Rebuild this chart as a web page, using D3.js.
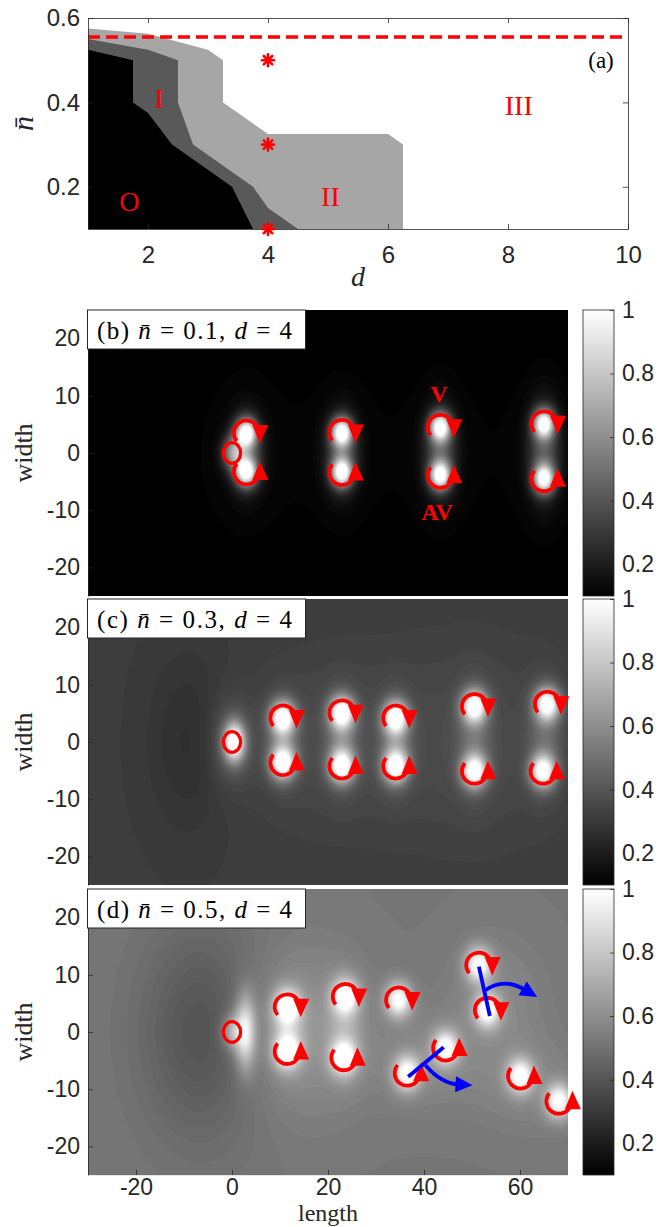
<!DOCTYPE html>
<html><head><meta charset="utf-8">
<script src="https://cdn.jsdelivr.net/npm/d3@7"></script>
<style>body{margin:0;background:#fff;} svg{display:block;}</style>
</head><body>
<script>
// ================= DATA =================
// Panel (a): phase diagram (d, n̄)
const dTicks = [2, 4, 6, 8, 10];
const nTicks = [0.2, 0.4, 0.6];
const regionII = [[1,0.575],[2,0.5625],[3,0.525],[3.25,0.5],[3.25,0.4],[4,0.325],[6,0.325],[6.25,0.3],[6.25,0.1],[1,0.1]];
const regionI  = [[1,0.55],[2,0.525],[2.5,0.5],[2.5,0.4],[2.75,0.3],[3.75,0.2],[4,0.15],[4.5,0.1],[1,0.1]];
const regionO  = [[1,0.525],[1.75,0.5],[1.75,0.4],[2,0.375],[2.4,0.3],[3.4,0.2],[3.75,0.1],[1,0.1]];
const criticalN = 0.555;
const sampleD = [4, 4, 4];
const sampleN = [0.1, 0.3, 0.5];
const regionNames = ["O", "I", "II", "III"];
const regionNameD = [1.69, 2.18, 5.04, 8.18];
const regionNameN = [0.166, 0.41, 0.178, 0.393];

// Panels (b)-(d): density maps
const lengthTicks = [-20, 0, 20, 40, 60];
const widthTicks = [-20, -10, 0, 10, 20];
const cbarTicks = [0.2, 0.4, 0.6, 0.8, 1];
const panelLetters = ["(b)", "(c)", "(d)"];
const panelNbar = ["0.1", "0.3", "0.5"];
const panelD = ["4", "4", "4"];
const backgroundDensity = [0.1, 0.31, 0.52];
// vortex centres [length, width, type]
const vorticesB = [[3,3.5,"V"],[3,-3.3,"AV"],[22.9,3.6,"V"],[22.9,-3.4,"AV"],[43.4,4.5,"V"],[43.4,-3.9,"AV"],[65,5.1,"V"],[65,-4.5,"AV"]];
const vorticesC = [[10.6,4.2,"V"],[10.6,-3.6,"AV"],[22.9,5.1,"V"],[22.9,-4.2,"AV"],[34.1,4.2,"V"],[34.1,-4.2,"AV"],[50.5,6.2,"V"],[50.5,-5.1,"AV"],[65.7,6.6,"V"],[64.8,-5.1,"AV"]];
const vorticesD = [[11.5,4.4,"V"],[11.5,-3.4,"AV"],[23.6,6.2,"V"],[23.3,-4.5,"AV"],[34.7,5.6,"V"],[51.4,11.7,"V"],[53.2,3.8,"V"],[44.5,-2.8,"AV"],[36.5,-7.2,"AV"],[60.1,-7.7,"AV"],[68.1,-12.1,"AV"]];
// vortex core bump [amplitude, sigmaLength, sigmaWidth]
const coreB = [0.85, 1.5, 1.7];
const coreC = [0.7, 1.8, 2.0];
const coreD = [0.5, 1.9, 2.1];
// extra density features [length, width, amplitude, sigmaLength, sigmaWidth]
const featuresB = [[0.3,0,0.45,1.6,2.0],[3,0.1,0.3,2.2,4.2],[22.9,0.1,0.3,2.2,4.5],[43.4,0.3,0.3,2.2,5],[65,0.3,0.3,2.2,5.5],
  [3,0,0.025,6,9],[22.9,0,0.02,6,9],[43.4,0,0.02,6,9],[65,0,0.02,6,9]];
const featuresC = [[-9,0,-0.05,6,11],[0.5,0,0.75,1.5,2.3],[0,0,0.12,3,5],[10.6,0.3,0.18,2.2,4.5],[22.9,0.4,0.18,2.2,5],[34.1,0,0.18,2.2,5],
  [50.5,0.5,0.15,2.4,6],[65.2,0.7,0.15,2.4,6],[20,0,0.05,12,10],[50,0,0.05,14,12]];
const featuresD = [[-6,0,-0.13,9,13],[2.8,0,0.45,1.5,4.4],[0.2,0,0.25,1.6,2.2],[14,0,0.1,9,10],[11.5,0.5,0.15,2.5,4.5],[23.5,0.8,0.15,2.5,5.5],
  [40,-5,0.06,8,6],[55,5,0.06,7,8],[62,-9,0.05,8,6]];
const obstacleRadius = 1.8;
// (b) labels
const vLabel = ["V", 43.1, 10.3];
const avLabel = ["AV", 42.7, -10.3];
// (d) blue pair axes and rotation arrows
const pairAxes = [[[51.43,11.42],[53.72,2.8]], [[36.7,-7.81],[44.1,-2.67]]];
const rotStart = [[52.8,7.3],[40.3,-5.8]];
const rotCtrl  = [[56.6,9.6],[43.6,-9.0]];
const rotTip   = [[63.6,6.1],[50.1,-9.3]];

// ================= DRAW =================
const W = 665, H = 1227;
const axisColor = "#262626";
const sans = "'Liberation Sans', Arial, Helvetica, sans-serif";
const serif = "'Liberation Serif', 'Times New Roman', 'DejaVu Serif', serif";
const RED = "#ff0000";
const plainFmt = d => String(d);

const svg = d3.select("body").append("svg").attr("width", W).attr("height", H);
svg.append("rect").attr("width", W).attr("height", H).attr("fill", "#fff");
const defs = svg.append("defs");

function styleAxis(g, fs) {
  g.selectAll("path.domain").attr("stroke", axisColor).attr("stroke-width", 0.8);
  g.selectAll(".tick line").attr("stroke", axisColor).attr("stroke-width", 0.8);
  g.selectAll(".tick text").attr("fill", axisColor).style("font-family", sans).style("font-size", fs + "px");
}

// ---------- Panel (a) ----------
const xa = d3.scaleLinear().domain([1, 10]).range([88, 628]);
const ya = d3.scaleLinear().domain([0.1, 0.6]).range([229, 18]);
defs.append("clipPath").attr("id", "clipA").append("rect")
  .attr("x", xa.range()[0]).attr("y", ya.range()[1])
  .attr("width", xa.range()[1] - xa.range()[0]).attr("height", ya.range()[0] - ya.range()[1]);
const ga = svg.append("g");
const gaC = ga.append("g").attr("clip-path", "url(#clipA)");
const lineA = d3.line().x(p => xa(p[0])).y(p => ya(p[1]));
gaC.append("path").attr("d", lineA(regionII) + "Z").attr("fill", "#a6a6a6");
gaC.append("path").attr("d", lineA(regionI) + "Z").attr("fill", "#595959");
gaC.append("path").attr("d", lineA(regionO) + "Z").attr("fill", "#000");
gaC.append("line").attr("x1", xa(1)).attr("x2", xa(10)).attr("y1", ya(criticalN)).attr("y2", ya(criticalN))
  .attr("stroke", RED).attr("stroke-width", 3.5).attr("stroke-dasharray", "12,6");

// axes
const axB = ga.append("g").attr("transform", `translate(0,${ya(0.1)})`)
  .call(d3.axisBottom(xa).tickValues(dTicks).tickSize(-5).tickSizeOuter(0).tickPadding(17).tickFormat(plainFmt));
styleAxis(axB, 24);
const axT = ga.append("g").attr("transform", `translate(0,${ya(0.6)})`)
  .call(d3.axisTop(xa).tickValues(dTicks).tickSize(-5).tickSizeOuter(0).tickFormat(""));
styleAxis(axT, 24);
const axL = ga.append("g").attr("transform", `translate(${xa(1)},0)`)
  .call(d3.axisLeft(ya).tickValues(nTicks).tickSize(-5).tickSizeOuter(0).tickPadding(8).tickFormat(d3.format(".1f")));
styleAxis(axL, 24);
const axR = ga.append("g").attr("transform", `translate(${xa(10)},0)`)
  .call(d3.axisRight(ya).tickValues(nTicks).tickSize(-5).tickSizeOuter(0).tickFormat(""));
styleAxis(axR, 24);

// region labels
regionNames.forEach((t, i) => {
  ga.append("text").attr("x", xa(regionNameD[i])).attr("y", ya(regionNameN[i]))
    .attr("text-anchor", "middle").attr("dominant-baseline", "central")
    .style("font-family", serif).style("font-size", "28px").attr("fill", RED).text(t);
});
ga.append("text").attr("x", xa(9.55)).attr("y", ya(0.5)).attr("text-anchor", "middle").attr("dominant-baseline", "central")
  .style("font-family", serif).style("font-size", "23px").attr("fill", "#000").text("(a)");

// asterisks
sampleD.forEach((d, i) => {
  const cx = xa(d), cy = ya(sampleN[i]), r = 6;
  const g = ga.append("g").attr("stroke", RED).attr("stroke-width", 2.6).attr("stroke-linecap", "round");
  [0, 45, 90, 135].forEach(a => {
    const c = Math.cos(a * Math.PI / 180) * r, s = Math.sin(a * Math.PI / 180) * r;
    g.append("line").attr("x1", cx - c).attr("y1", cy - s).attr("x2", cx + c).attr("y2", cy + s);
  });
});

// axis titles
ga.append("text").attr("x", (xa(1) + xa(10)) / 2).attr("y", 286).attr("text-anchor", "middle")
  .style("font-family", serif).style("font-style", "italic").style("font-size", "28px").attr("fill", axisColor).text("d");
ga.append("text").attr("transform", `translate(33,${(ya(0.1) + ya(0.6)) / 2}) rotate(-90)`).attr("text-anchor", "middle")
  .style("font-family", serif).style("font-style", "italic").style("font-size", "30px").attr("fill", axisColor).text("n\u0304");

// ---------- Panels (b)-(d) ----------
const panelTops = [310, 599, 889];
const panelH = 286;
const xLeft = 88, xRight = 568;
const cbX = 583, cbW = 31;
const vortexSets = [vorticesB, vorticesC, vorticesD];
const coreSets = [coreB, coreC, coreD];
const featureSets = [featuresB, featuresC, featuresD];

const grad = defs.append("linearGradient").attr("id", "cbGrad").attr("x1", 0).attr("y1", 1).attr("x2", 0).attr("y2", 0);
grad.append("stop").attr("offset", "0%").attr("stop-color", "#000");
grad.append("stop").attr("offset", "100%").attr("stop-color", "#fff");

const grayScale = d3.scaleLinear().domain([0.1, 1]).range([0, 1]).clamp(true);
const levels = 64;

function drawVortex(g, cx, cy, type) {
  const r = 12.5, s = type === "V" ? 1 : -1;
  const a0 = 220 * Math.PI / 180, a1 = 28 * Math.PI / 180;
  const p0 = [cx + r * Math.cos(a0), cy - s * r * Math.sin(a0)];
  const p1 = [cx + r * Math.cos(a1), cy - s * r * Math.sin(a1)];
  const sweep = s === 1 ? 1 : 0;
  g.append("path").attr("d", `M${p0[0]},${p0[1]} A${r},${r} 0 1 ${sweep} ${p1[0]},${p1[1]}`)
    .attr("fill", "none").attr("stroke", RED).attr("stroke-width", 3.8);
  const tri = [[cx + 6, cy - s * 8], [cx + 22, cy - s * 8], [cx + 13.5, cy + s * 10.5]];
  g.append("path").attr("d", "M" + tri.map(p => p.join(",")).join("L") + "Z").attr("fill", RED);
}

panelTops.forEach((top, k) => {
  const xs = d3.scaleLinear().domain([-30, 70]).range([xLeft, xRight]);
  const ys = d3.scaleLinear().domain([-25, 25]).range([top + panelH, top]);
  const g = svg.append("g");
  const wpx = xRight - xLeft;

  // density field on a canvas
  const cv = document.createElement("canvas");
  cv.width = wpx; cv.height = panelH;
  const ctx = cv.getContext("2d");
  const img = ctx.createImageData(wpx, panelH);
  const vs = vortexSets[k], core = coreSets[k], feats = featureSets[k];
  const bumps = vs.map(v => [v[0], v[1], core[0], core[1], core[2]]).concat(feats);
  for (let j = 0; j < panelH; j++) {
    const yv = ys.invert(top + j + 0.5);
    for (let i = 0; i < wpx; i++) {
      const xv = xs.invert(xLeft + i + 0.5);
      let val = backgroundDensity[k];
      for (const b of bumps) {
        const dx = (xv - b[0]) / b[3], dy = (yv - b[1]) / b[4];
        const e = dx * dx + dy * dy;
        if (e < 30) val += b[2] * Math.exp(-0.5 * e);
      }
      let t = grayScale(val);
      t = Math.floor(t * (levels - 1) + 0.5) / (levels - 1);
      const c = Math.round(t * 255);
      const idx = (j * wpx + i) * 4;
      img.data[idx] = c; img.data[idx + 1] = c; img.data[idx + 2] = c; img.data[idx + 3] = 255;
    }
  }
  ctx.putImageData(img, 0, 0);
  g.append("image").attr("x", xLeft).attr("y", top).attr("width", wpx).attr("height", panelH)
    .attr("preserveAspectRatio", "none").attr("href", cv.toDataURL());

  // axes
  const al = g.append("g").attr("transform", `translate(${xLeft},0)`)
    .call(d3.axisLeft(ys).tickValues(widthTicks).tickSize(-5).tickSizeOuter(0).tickPadding(8).tickFormat(plainFmt));
  styleAxis(al, 23);
  if (k === 2) {
    const ab = g.append("g").attr("transform", `translate(0,${top + panelH})`)
      .call(d3.axisBottom(xs).tickValues(lengthTicks).tickSize(-5).tickSizeOuter(0).tickPadding(4).tickFormat(plainFmt));
    styleAxis(ab, 23);
    ab.select("path.domain").attr("stroke", "#ddd");
    g.append("text").attr("x", (xLeft + xRight) / 2).attr("y", 1221).attr("text-anchor", "middle")
      .style("font-family", serif).style("font-size", "24px").attr("fill", axisColor).text("length");
  }
  g.append("text").attr("transform", `translate(32,${top + panelH / 2}) rotate(-90)`).attr("text-anchor", "middle")
    .style("font-family", serif).style("font-size", "26px").attr("fill", axisColor).text("width");

  // obstacle ring
  g.append("ellipse").attr("cx", xs(0)).attr("cy", ys(0))
    .attr("rx", xs(obstacleRadius) - xs(0)).attr("ry", ys(0) - ys(obstacleRadius))
    .attr("fill", "none").attr("stroke", RED).attr("stroke-width", 3.3);

  // vortices
  vs.forEach(v => drawVortex(g, xs(v[0]), ys(v[1]), v[2]));

  if (k === 0) {
    [vLabel, avLabel].forEach(l => {
      g.append("text").attr("x", xs(l[1])).attr("y", ys(l[2])).attr("text-anchor", "middle").attr("dominant-baseline", "central")
        .style("font-family", serif).style("font-weight", "bold").style("font-size", "24px").attr("fill", RED).text(l[0]);
    });
  }
  if (k === 2) {
    pairAxes.forEach(a => {
      g.append("line").attr("x1", xs(a[0][0])).attr("y1", ys(a[0][1])).attr("x2", xs(a[1][0])).attr("y2", ys(a[1][1]))
        .attr("stroke", "#0000ff").attr("stroke-width", 3.8);
    });
    rotStart.forEach((s, i) => {
      const p0 = [xs(s[0]), ys(s[1])], c = [xs(rotCtrl[i][0]), ys(rotCtrl[i][1])], tp = [xs(rotTip[i][0]), ys(rotTip[i][1])];
      let dx = tp[0] - c[0], dy = tp[1] - c[1];
      const L = Math.hypot(dx, dy); dx /= L; dy /= L;
      const len = 17, hw = 8;
      const base = [tp[0] - dx * len, tp[1] - dy * len];
      g.append("path").attr("d", `M${p0[0]},${p0[1]} Q${c[0]},${c[1]} ${base[0] + dx * 3},${base[1] + dy * 3}`)
        .attr("fill", "none").attr("stroke", "#0000ff").attr("stroke-width", 3.8);
      const tri = [tp, [base[0] - dy * hw, base[1] + dx * hw], [base[0] + dy * hw, base[1] - dx * hw]];
      g.append("path").attr("d", "M" + tri.map(p => p.join(",")).join("L") + "Z").attr("fill", "#0000ff");
    });
  }

  // title box
  const tb = g.append("g");
  tb.append("rect").attr("x", xLeft - 0.5).attr("y", top).attr("width", 218).attr("height", 39)
    .attr("fill", "#fff").attr("stroke", axisColor).attr("stroke-width", 1);
  const tt = tb.append("text").attr("x", 97).attr("y", top + 29)
    .style("font-family", serif).style("font-size", "25px").attr("fill", "#000")
    .attr("textLength", 195).attr("lengthAdjust", "spacing");
  tt.append("tspan").text(panelLetters[k] + " ");
  tt.append("tspan").style("font-style", "italic").text("n\u0304");
  tt.append("tspan").text(" = " + panelNbar[k] + ", ");
  tt.append("tspan").style("font-style", "italic").text("d");
  tt.append("tspan").text(" = " + panelD[k]);

  // colorbar
  const cs = d3.scaleLinear().domain([0.1, 1]).range([top + panelH, top]);
  g.append("rect").attr("x", cbX).attr("y", top).attr("width", cbW).attr("height", panelH)
    .attr("fill", "url(#cbGrad)").attr("stroke", axisColor).attr("stroke-width", 0.8);
  const ac = g.append("g").attr("transform", `translate(${cbX + cbW},0)`)
    .call(d3.axisRight(cs).tickValues(cbarTicks).tickSize(-4).tickSizeOuter(0).tickPadding(8).tickFormat(d => d === 1 ? "1" : d3.format(".1f")(d)));
  styleAxis(ac, 23);
  ac.select("path.domain").remove();
});
</script>
</body></html>
